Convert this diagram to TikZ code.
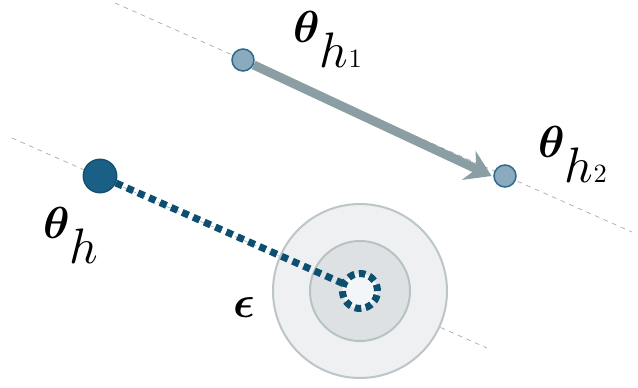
\documentclass[tikz,border=0pt]{standalone}
\usepackage{amsmath}
\usepackage{bm}
\usepackage{graphicx}
\usepackage{xcolor}
\usetikzlibrary{arrows.meta}
\definecolor{guidegray}{RGB}{170,170,170}
\definecolor{deepblue}{RGB}{26,95,133}
\definecolor{deepedge}{RGB}{20,80,112}
\definecolor{dotblue}{RGB}{12,79,112}
\definecolor{ptfill}{RGB}{138,170,189}
\definecolor{ptedge}{RGB}{47,106,141}
\definecolor{steparrow}{RGB}{138,158,163}
\definecolor{outerfill}{RGB}{238,240,242}
\definecolor{outeredge}{RGB}{188,197,200}
\definecolor{innerfill}{RGB}{221,225,227}
\definecolor{inneredge}{RGB}{184,194,197}
\definecolor{corefill}{RGB}{243,246,248}
% big bold theta with a large, low subscript
\newcommand{\thetalabel}[2]{\scalebox{3.83}{$\bm{\theta}$}\raisebox{-22pt}{\scalebox{4.25}{$#1$}\scalebox{2.25}{$#2$}}}

\begin{document}
\begin{tikzpicture}[x=0.03cm, y=-0.03cm,
		guide/.style={draw=guidegray, line width=0.6pt, dash pattern=on 4pt off 4pt},
		param/.style={circle, draw=ptedge, fill=ptfill, line width=1.3pt,
			minimum size=0.66cm, inner sep=0pt},
		start/.style={circle, draw=deepedge, fill=deepblue, line width=1.3pt,
			minimum size=1cm, inner sep=0pt},
		ring/.style={circle, line width=1.7pt, inner sep=0pt},
		core/.style={circle, draw=dotblue, fill=corefill, line width=6pt,
			dash pattern=on 5.6pt off 3.8pt, minimum size=1.05cm, inner sep=0pt},
		label/.style={inner sep=0pt, anchor=base west},
		arrow/.style={-{Stealth[length=0.75cm, width=0.95cm, inset=0.25cm]},
			line width=7.7pt, draw=steparrow},
		noise/.style={draw=dotblue, line width=6pt, dash pattern=on 6pt off 4.3pt}
	]
		\useasboundingbox (0,0) rectangle (638,387);
		% guide lines
		\coordinate (g1a) at (115,3);
		\coordinate (g1b) at (632,232);
		\coordinate (g2a) at (12,138);
		\coordinate (g2b) at (487,348);
		\draw[guide] (g1a) -- (g1b);
		\draw[guide] (g2a) -- (g2b);
		% neighbourhood
		\node[ring, draw=outeredge, fill=outerfill, minimum size=5.22cm] (outer) at (360,291) {};
		\node[ring, draw=inneredge, fill=innerfill, minimum size=3cm] (inner) at (360,291) {};
		\node[start] (h) at (100,176) {};
		\draw[noise] (h) -- (outer.center);
		\node[core] (eps) at (360,291) {};
		% step
		\node[param] (h1) at (243,60) {};
		\node[param] (h2) at (505,176) {};
		\draw[arrow] (h1) -- ([xshift=-0.05cm]h2.west);
		% labels
		\node[label] (lh1) at (293,42) {\thetalabel{h}{1}};
		\node[label] (lh2) at (538,157) {\thetalabel{h}{2}};
		\node[label] (lh) at (43,238) {\thetalabel{h}{}};
		\node[label] (leps) at (233,317) {\scalebox{3.83}{$\bm{\epsilon}$}};
	\end{tikzpicture}
\end{document}
